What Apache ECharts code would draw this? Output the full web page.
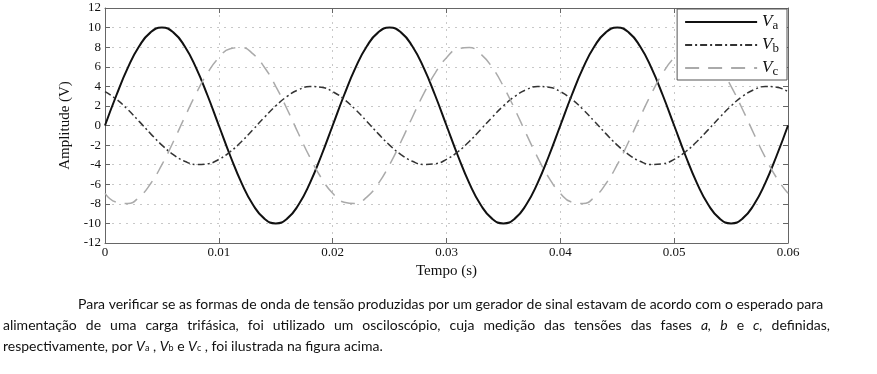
<!DOCTYPE html>
<html><head><meta charset="utf-8">
<script src="https://cdn.jsdelivr.net/npm/echarts@6/dist/echarts.min.js"></script>
<style>html,body{margin:0;padding:0;background:#fff}#c{width:877px;height:374px}</style>
</head><body><div id="c"></div>
<script>
// time samples (s)
const time = [0,0.001,0.002,0.003,0.004,0.005,0.006,0.007,0.008,0.009,0.01,0.011,0.012,0.013,0.014,0.015,0.016,0.017,0.018,0.019,
0.02,0.021,0.022,0.023,0.024,0.025,0.026,0.027,0.028,0.029,0.03,0.031,0.032,0.033,0.034,0.035,0.036,0.037,0.038,0.039,
0.04,0.041,0.042,0.043,0.044,0.045,0.046,0.047,0.048,0.049,0.05,0.051,0.052,0.053,0.054,0.055,0.056,0.057,0.058,0.059,0.06];
const va = [0,3.09,5.88,8.09,9.51,10,9.51,8.09,5.88,3.09,0,-3.09,-5.88,-8.09,-9.51,-10,-9.51,-8.09,-5.88,-3.09,
0,3.09,5.88,8.09,9.51,10,9.51,8.09,5.88,3.09,0,-3.09,-5.88,-8.09,-9.51,-10,-9.51,-8.09,-5.88,-3.09,
0,3.09,5.88,8.09,9.51,10,9.51,8.09,5.88,3.09,0,-3.09,-5.88,-8.09,-9.51,-10,-9.51,-8.09,-5.88,-3.09,0];
const vb = [3.46,2.68,1.63,0.42,-0.83,-2,-2.97,-3.65,-3.98,-3.91,-3.46,-2.68,-1.63,-0.42,0.83,2,2.97,3.65,3.98,3.91,
3.46,2.68,1.63,0.42,-0.83,-2,-2.97,-3.65,-3.98,-3.91,-3.46,-2.68,-1.63,-0.42,0.83,2,2.97,3.65,3.98,3.91,
3.46,2.68,1.63,0.42,-0.83,-2,-2.97,-3.65,-3.98,-3.91,-3.46,-2.68,-1.63,-0.42,0.83,2,2.97,3.65,3.98,3.91,3.46];
const vc = [-6.93,-7.83,-7.96,-7.31,-5.95,-4,-1.66,0.84,3.25,5.35,6.93,7.83,7.96,7.31,5.95,4,1.66,-0.84,-3.25,-5.35,
-6.93,-7.83,-7.96,-7.31,-5.95,-4,-1.66,0.84,3.25,5.35,6.93,7.83,7.96,7.31,5.95,4,1.66,-0.84,-3.25,-5.35,
-6.93,-7.83,-7.96,-7.31,-5.95,-4,-1.66,0.84,3.25,5.35,6.93,7.83,7.96,7.31,5.95,4,1.66,-0.84,-3.25,-5.35,-6.93];
const seriesNames = ['Va','Vb','Vc'];
const xLabel = 'Tempo (s)';
const yLabel = 'Amplitude (V)';
const caption1 = 'Para verificar se as formas de onda de tensão produzidas por um gerador de sinal estavam de acordo com o esperado para';
const caption2 = 'alimentação de uma carga trifásica, foi utilizado um osciloscópio, cuja medição das tensões das fases *a, *b e *c, definidas,';
const caption3 = 'respectivamente, por {i|V}{s|a} , {i|V}{s|b} e {i|V}{s|c} , foi ilustrada na figura acima.';

const zip = (ys) => time.map((t, i) => [t, ys[i]]);
const serif = 'Liberation Serif';
const axisCol = '#666';
const capFont = 'Lato';
const capSize = 14;

// justify caption line 2 between two x positions
function justified(line, x0, x1, top) {
  const ctx = document.createElement('canvas').getContext('2d');
  const words = line.split(' ').map(w => {
    const it = w.startsWith('*');
    const t = it ? w.slice(1) : w;
    ctx.font = (it ? 'italic ' : '') + capSize + 'px ' + capFont;
    return {t, it, w: ctx.measureText(t).width};
  });
  const total = words.reduce((s, w) => s + w.w, 0);
  const gap = (x1 - x0 - total) / (words.length - 1);
  let x = x0;
  return words.map(w => {
    const el = {type: 'text', left: x, top: top, style: {text: w.t, fontFamily: capFont, fontSize: capSize,
      fontStyle: w.it ? 'italic' : 'normal', fill: '#111'}};
    x += w.w + gap;
    return el;
  });
}

const chart = echarts.init(document.getElementById('c'));
const baseX = {
  type: 'value', min: 0, max: 0.06, interval: 0.01,
  axisLine: {show: true, onZero: false, lineStyle: {color: axisCol}},
  axisTick: {inside: true, length: 5, lineStyle: {color: axisCol}},
  splitLine: {show: false}
};
const baseY = {
  type: 'value', min: -12, max: 12, interval: 2,
  axisLine: {show: true, onZero: false, lineStyle: {color: axisCol}},
  axisTick: {inside: true, length: 5, lineStyle: {color: axisCol}},
  splitLine: {show: false}
};
const capStyle = {fontFamily: capFont, fontSize: capSize, fill: '#111'};
chart.setOption({
  animation: false,
  grid: {left: 105, right: 89, top: 8, bottom: 131},
  legend: {
    orient: 'vertical', right: 90, top: 9,
    backgroundColor: '#fff', borderColor: '#555', borderWidth: 1,
    padding: [3, 8, 2, 7], itemGap: 3, itemWidth: 72, itemHeight: 14,
    data: seriesNames,
    itemStyle: {opacity: 0},
    formatter: n => '{v|V}{s|' + n.slice(1) + '}',
    textStyle: {
      fontFamily: serif, color: '#111',
      rich: {
        v: {fontFamily: serif, fontStyle: 'italic', fontSize: 17, color: '#111', lineHeight: 20},
        s: {fontFamily: serif, fontSize: 13, color: '#111', padding: [7, 0, 0, 0], lineHeight: 14}
      }
    }
  },
  xAxis: [
    Object.assign({}, baseX, {
      position: 'bottom', name: xLabel, nameLocation: 'middle', nameGap: 20,
      nameTextStyle: {fontFamily: serif, fontSize: 15, color: '#111'},
      axisLabel: {fontFamily: serif, fontSize: 13, color: '#111', margin: 3},
      splitLine: {show: true, lineStyle: {type: [2, 5], color: '#c8c8c8'}}
    }),
    Object.assign({}, baseX, {position: 'top', axisLabel: {show: false}})
  ],
  yAxis: [
    Object.assign({}, baseY, {
      position: 'left', name: yLabel, nameLocation: 'middle', nameGap: 26,
      nameTextStyle: {fontFamily: serif, fontSize: 15, color: '#111'},
      axisLabel: {fontFamily: serif, fontSize: 13, color: '#111', margin: 4},
      splitLine: {show: true, lineStyle: {type: [2, 5], color: '#c8c8c8'}}
    }),
    Object.assign({}, baseY, {position: 'right', axisLabel: {show: false}})
  ],
  series: [
    {name: seriesNames[0], type: 'line', data: zip(va), smooth: true, symbol: 'none',
     lineStyle: {color: '#111', width: 2}, itemStyle: {color: '#111'}},
    {name: seriesNames[1], type: 'line', data: zip(vb), smooth: true, symbol: 'none',
     lineStyle: {color: '#333', width: 1.5, type: [7, 3, 2, 3]}, itemStyle: {color: '#333'}},
    {name: seriesNames[2], type: 'line', data: zip(vc), smooth: true, symbol: 'none',
     lineStyle: {color: '#aaa', width: 1.5, type: [14, 9]}, itemStyle: {color: '#aaa'}}
  ],
  graphic: [
    {type: 'text', left: 78, top: 297, style: Object.assign({text: caption1}, capStyle)}
  ].concat(justified(caption2, 3, 830, 318)).concat([
    {type: 'text', left: 3, top: 339, style: Object.assign({
      text: caption3,
      rich: {i: {fontFamily: capFont, fontStyle: 'italic', fontSize: capSize, fill: '#111'},
             s: {fontFamily: capFont, fontSize: 9, fill: '#111', padding: [5, 0, 0, 0]}}
    }, capStyle)}
  ])
});
</script></body></html>
